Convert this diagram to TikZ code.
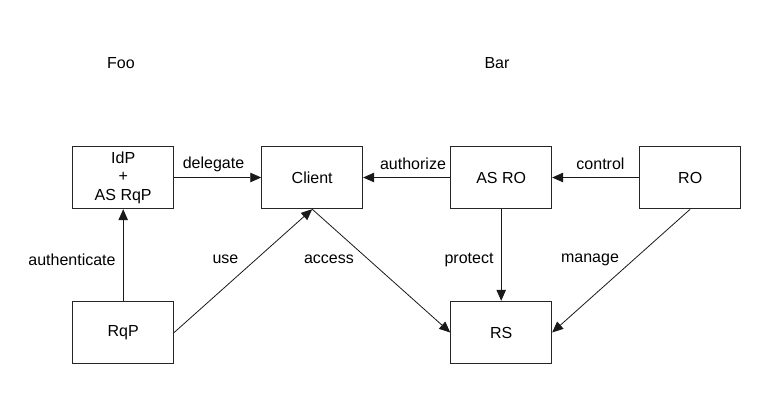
\documentclass[tikz,border=0pt]{standalone}
\usepackage{fontspec}
\setmainfont{Liberation Sans}
\usetikzlibrary{arrows.meta}
\begin{document}
\begin{tikzpicture}[x=1pt,y=-1pt,
  box/.style={draw=black!85, line width=0.9pt, minimum width=101pt, minimum height=62.5pt, inner sep=0pt, align=center, font=\fontsize{16}{18.5}\selectfont},
  lbl/.style={inner sep=0pt, font=\fontsize{16}{18.5}\selectfont},
  conn/.style={draw=black!90, line width=0.8pt, -{Triangle[length=11pt,width=9.5pt]}}]
\useasboundingbox (0,0) rectangle (769,400);
\node[box] (idp) at (123.2,177.5) {IdP\\+\\AS RqP};
\node[box] (client) at (312.2,177.5) {Client};
\node[box] (asro) at (501.2,177.5) {AS RO};
\node[box] (ro) at (690.2,177.5) {RO};
\node[box] (rqp) at (123.2,332.5) {RqP};
\node[box] (rs) at (501.2,332.5) {RS};
\node[lbl] (foo) at (121,63) {Foo};
\node[lbl] (bar) at (497,63) {Bar};
\draw[conn] (idp.east) -- (client.west);
\draw[conn] (asro.west) -- (client.east);
\draw[conn] (ro.west) -- (asro.east);
\draw[conn] (rqp.north) -- (idp.south);
\draw[conn] (rqp.east) -- (client.south);
\draw[conn] (client.south) -- (rs.west);
\draw[conn] (asro.south) -- (rs.north);
\draw[conn] (ro.south) -- (rs.east);
\node[lbl] (ldelegate) at (213.5,164) {delegate};
\node[lbl] (lauthorize) at (413,164) {authorize};
\node[lbl] (lcontrol) at (600.5,164) {control};
\node[lbl] (lauth) at (72,259.5) {authenticate};
\node[lbl] (luse) at (225.5,259.5) {use};
\node[lbl] (laccess) at (329,259.5) {access};
\node[lbl] (lprotect) at (469,259.5) {protect};
\node[lbl] (lmanage) at (590,259.5) {manage};
\end{tikzpicture}
\end{document}
